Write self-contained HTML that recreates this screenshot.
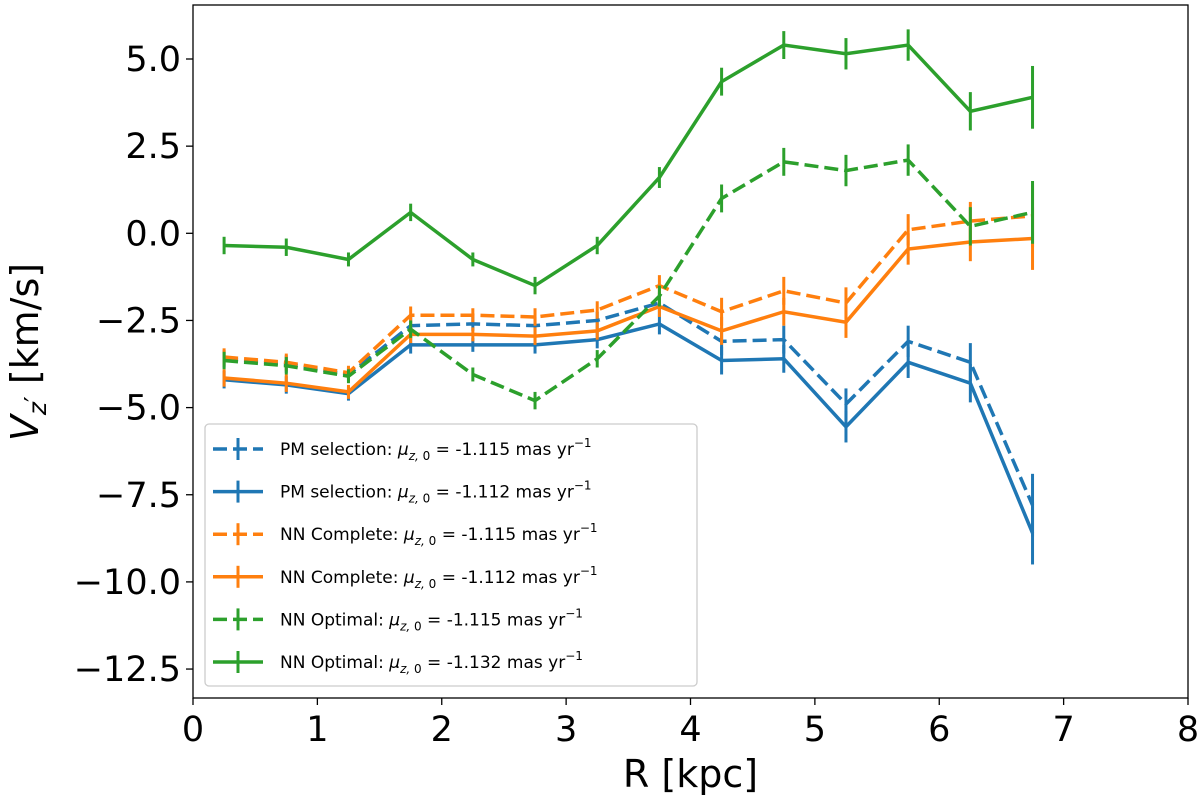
<!DOCTYPE html>
<html><head><meta charset="utf-8"><style>
html,body{margin:0;padding:0;background:#fff;}
svg{display:block;font-family:"DejaVu Sans","Liberation Sans",sans-serif;}
</style></head><body>
<svg id="chart" width="1200" height="800">
<g id="marks"></g>
<g id="axes"></g>
<g id="legend"></g>
</svg>
<script>
const radii=[0.25,0.75,1.25,1.75,2.25,2.75,3.25,3.75,4.25,4.75,5.25,5.75,6.25,6.75];
const pmDashed=[-3.6,-3.75,-4.05,-2.65,-2.6,-2.65,-2.5,-2.0,-3.1,-3.05,-4.9,-3.1,-3.7,-7.8];
const pmSolid=[-4.2,-4.35,-4.6,-3.2,-3.2,-3.2,-3.05,-2.6,-3.65,-3.6,-5.55,-3.7,-4.3,-8.6];
const nnCompDashed=[-3.55,-3.7,-4.0,-2.35,-2.35,-2.4,-2.2,-1.5,-2.25,-1.65,-2.0,0.1,0.35,0.5];
const nnCompSolid=[-4.15,-4.3,-4.55,-2.9,-2.9,-2.95,-2.8,-2.1,-2.8,-2.25,-2.55,-0.45,-0.25,-0.15];
const nnOptDashed=[-3.65,-3.8,-4.1,-2.75,-4.05,-4.8,-3.6,-1.8,1.0,2.05,1.8,2.1,0.2,0.6];
const nnOptSolid=[-0.35,-0.4,-0.75,0.6,-0.75,-1.5,-0.35,1.6,4.35,5.4,5.15,5.4,3.5,3.9];
const errs=[0.25,0.25,0.2,0.25,0.2,0.25,0.25,0.3,0.4,0.4,0.45,0.45,0.55,0.9];
const xTicks=[0,1,2,3,4,5,6,7,8];
const yTicks=[5.0,2.5,0.0,-2.5,-5.0,-7.5,-10.0,-12.5];
const labels=["PM selection: ","PM selection: ","NN Complete: ","NN Complete: ","NN Optimal: ","NN Optimal: "];
const muVals=["-1.115","-1.112","-1.115","-1.112","-1.115","-1.132"];

const L=193,R=1188,T=5,B=698;
const X=v=>L+(v-0)*(R-L)/8;
const Y=v=>59+(5-v)*34.86;
const NS="http://www.w3.org/2000/svg";
function mk(t,a,p){const e=document.createElementNS(NS,t);for(const k in a)e.setAttribute(k,a[k]);p.appendChild(e);return e;}
const marks=document.getElementById('marks'),axes=document.getElementById('axes'),leg=document.getElementById('legend');
const series=[[pmDashed,'#1f77b4',true,'pm-selection-dashed'],[pmSolid,'#1f77b4',false,'pm-selection-solid'],
[nnCompDashed,'#ff7f0e',true,'nn-complete-dashed'],[nnCompSolid,'#ff7f0e',false,'nn-complete-solid'],
[nnOptDashed,'#2ca02c',true,'nn-optimal-dashed'],[nnOptSolid,'#2ca02c',false,'nn-optimal-solid']];
series.forEach(([d,c,dash,name])=>{
 const g=mk('g',{},marks);
 
 
 const pts=d.map((v,i)=>X(radii[i])+','+Y(v)).join(' ');
 const pl=mk('polyline',{points:pts,fill:'none',stroke:c,'stroke-width':3.5,'stroke-dasharray':dash?'14,6':'none'},g);
 
 
 d.forEach((v,i)=>{
  const e=mk('line',{x1:X(radii[i]),x2:X(radii[i]),y1:Y(v-errs[i]),y2:Y(v+errs[i]),stroke:c,'stroke-width':3},g);
  
  
 });
});
mk('rect',{x:L,y:T,width:R-L,height:B-T,fill:'none',stroke:'#000','stroke-width':1.3},axes);
xTicks.forEach(t=>{
 mk('line',{x1:X(t),x2:X(t),y1:B,y2:B+7,stroke:'#000','stroke-width':1.3},axes);
 const tx=mk('text',{x:X(t),y:B+43,'font-size':35,'text-anchor':'middle'},axes);tx.textContent=t;
 
 
});
yTicks.forEach(t=>{
 mk('line',{x1:L-7,x2:L,y1:Y(t),y2:Y(t),stroke:'#000','stroke-width':1.3},axes);
 const tx=mk('text',{x:L-12,y:Y(t)+12,'font-size':35,'text-anchor':'end'},axes);tx.textContent=(t<0?'\u2212':'')+Math.abs(t).toFixed(1);
 
 
});
const xl=mk('text',{x:(L+R)/2,y:787,'font-size':38,'text-anchor':'middle'},axes);xl.textContent='R [kpc]';


const yl=mk('text',{x:0,y:0,'font-size':38,'text-anchor':'middle',transform:'translate(38,352) rotate(-90)'},axes);
yl.innerHTML='<tspan font-style="italic">V</tspan><tspan font-size="25" dy="8" font-style="italic">z</tspan><tspan font-size="25" dy="-4">′</tspan><tspan dy="-4"> [km/s]</tspan>';


const box=mk('rect',{x:205,y:424,width:492,height:262,rx:4,fill:'#fff','fill-opacity':0.85,stroke:'#ccc','stroke-width':1.3},leg);


series.forEach(([d,c,dash,name],i)=>{
 const y=449+i*42.6;
 const g=mk('g',{},leg);
 
 
 mk('line',{x1:213,x2:263,y1:y,y2:y,stroke:c,'stroke-width':3.5,'stroke-dasharray':dash?'14,6':'none'},g);
 mk('line',{x1:238,x2:238,y1:y-11,y2:y+11,stroke:c,'stroke-width':3},g);
 const t=mk('text',{x:280,y:y+6,'font-size':17},g);
 t.innerHTML=labels[i]+'<tspan font-style="italic">μ</tspan><tspan font-size="12" dy="5" font-style="italic">z,</tspan><tspan font-size="12"> 0</tspan><tspan dy="-5"> = '+muVals[i]+' mas yr</tspan><tspan font-size="12" dy="-8">−1</tspan>';
});
</script>
</body></html>
